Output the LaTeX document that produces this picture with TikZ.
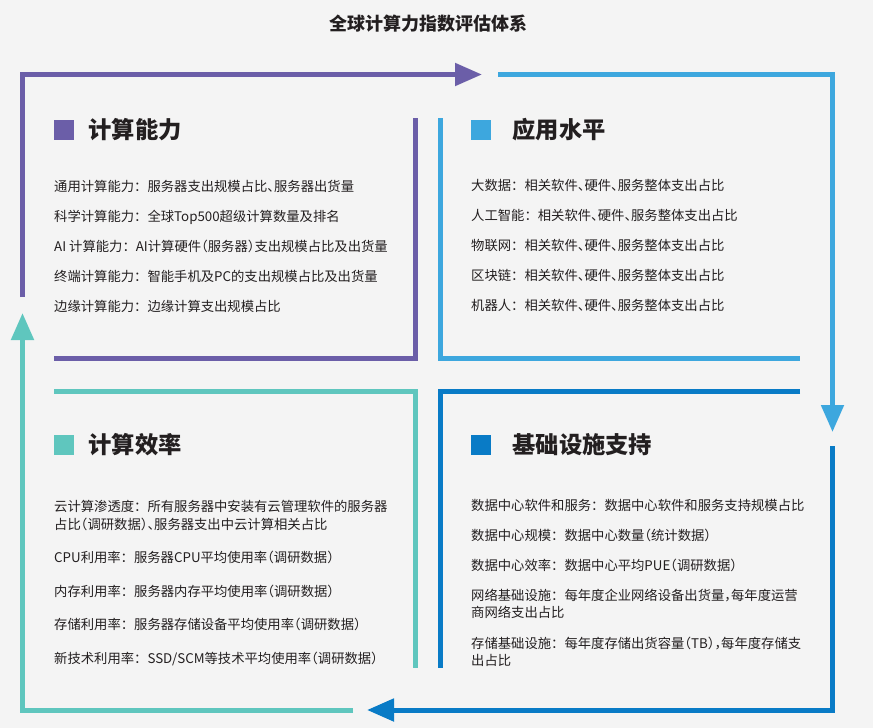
\documentclass[tikz,border=0pt]{standalone}
\usepackage{fontspec}
\setmainfont{Noto Sans CJK SC}
\usetikzlibrary{positioning, arrows.meta}
\definecolor{bgc}{RGB}{244,244,244}
\definecolor{cpurple}{RGB}{107,94,168}
\definecolor{cskyblue}{RGB}{61,167,222}
\definecolor{cteal}{RGB}{95,198,190}
\definecolor{cblue}{RGB}{9,123,198}
\definecolor{txt}{RGB}{35,31,32}
% half-width punctuation
\newcommand\halfp[1]{{\addfontfeatures{RawFeature=+halt}#1}}
\newcommand\survey{\halfp{（}调研数据\halfp{）}}

\begin{document}
\begin{tikzpicture}[x=1pt, y=-1pt,
    frame/.style={line width=5pt},
    tip/.style={-{Triangle[width=22pt,length=27pt]}},
    sq/.style={rectangle, minimum size=20pt, inner sep=0pt},
    hd/.style={anchor=west, inner sep=0pt, font=\bfseries\fontsize{23.3}{28}\selectfont, text=txt},
    item/.style={anchor=base west, inner sep=0pt, align=left, font=\fontsize{13.33}{17.5}\selectfont, text=txt}
  ]
    % Background and page size
    \fill[bgc] (0,0) rectangle (873,728);
    \useasboundingbox (0,0) rectangle (873,728);

    % Title
    \node[font=\bfseries\fontsize{18}{22}\selectfont, text=txt] (title) at (428.5,23.3) {全球计算力指数评估体系};

    % Outer cycle
    \coordinate (o1) at (22.5,297);
    \coordinate (o2) at (482,74.5);
    \coordinate (o3) at (498,74.5);
    \coordinate (o4) at (832.5,432);
    \coordinate (o5) at (832.5,446);
    \coordinate (o6) at (367,710);
    \coordinate (o7) at (353,710);
    \coordinate (o8) at (22.5,313);
    \draw[frame, cpurple, tip] (o1) |- (o2);
    \draw[frame, cskyblue, tip] (o3) -| (o4);
    \draw[frame, cblue, tip] (o5) |- (o6);
    \draw[frame, cteal, tip] (o7) -| (o8);

    % Inner corners
    \coordinate (a1) at (415,118);
    \coordinate (a2) at (54,358.5);
    \coordinate (b1) at (440.5,118);
    \coordinate (b2) at (800,358.5);
    \coordinate (c1) at (54,391.5);
    \coordinate (c2) at (415,668);
    \coordinate (d1) at (800,391.5);
    \coordinate (d2) at (440.5,668);
    \draw[frame, cpurple] (a1) |- (a2);
    \draw[frame, cskyblue] (b1) |- (b2);
    \draw[frame, cteal] (c1) -| (c2);
    \draw[frame, cblue] (d1) -| (d2);

    % Top left
    \node[sq, fill=cpurple] (sqA) at (64,130) {};
    \node[hd, right=14pt of sqA] (hdA) {计算能力};
    \node[item] (A1) at (54,191) {通用计算能力：服务器支出规模占比\halfp{、}服务器出货量};
    \node[item] (A2) at (54,221) {科学计算能力：全球Top500超级计算数量及排名};
    \node[item] (A3) at (54,251) {AI 计算能力：AI计算硬件\halfp{（}服务器\halfp{）}支出规模占比及出货量};
    \node[item] (A4) at (54,281) {终端计算能力：智能手机及PC的支出规模占比及出货量};
    \node[item] (A5) at (54,311) {边缘计算能力：边缘计算支出规模占比};

    % Top right
    \node[sq, fill=cskyblue] (sqB) at (481,130) {};
    \node[hd, right=21pt of sqB] (hdB) {应用水平};
    \node[item] (B1) at (471,190.5) {大数据：相关软件\halfp{、}硬件\halfp{、}服务整体支出占比};
    \node[item] (B2) at (471,220.5) {人工智能：相关软件\halfp{、}硬件\halfp{、}服务整体支出占比};
    \node[item] (B3) at (471,250.5) {物联网：相关软件\halfp{、}硬件\halfp{、}服务整体支出占比};
    \node[item] (B4) at (471,280.5) {区块链：相关软件\halfp{、}硬件\halfp{、}服务整体支出占比};
    \node[item] (B5) at (471,310.5) {机器人：相关软件\halfp{、}硬件\halfp{、}服务整体支出占比};

    % Bottom left (multi-line nodes sit on their last line)
    \node[sq, fill=cteal] (sqC) at (64,445) {};
    \node[hd, right=14pt of sqC] (hdC) {计算效率};
    \node[item] (C1) at (54,529) {云计算渗透度：所有服务器中安装有云管理软件的服务器\\占比\survey\halfp{、}服务器支出中云计算相关占比};
    \node[item] (C2) at (54,562) {CPU利用率：服务器CPU平均使用率\survey};
    \node[item] (C3) at (54,596) {内存利用率：服务器内存平均使用率\survey};
    \node[item] (C4) at (54,629.5) {存储利用率：服务器存储设备平均使用率\survey};
    \node[item] (C5) at (54,663.5) {新技术利用率：SSD/SCM等技术平均使用率\survey};

    % Bottom right
    \node[sq, fill=cblue] (sqD) at (481,445) {};
    \node[hd, right=21pt of sqD] (hdD) {基础设施支持};
    \node[item] (D1) at (471,510) {数据中心软件和服务：数据中心软件和服务支持规模占比};
    \node[item] (D2) at (471,540) {数据中心规模：数据中心数量\halfp{（}统计数据\halfp{）}};
    \node[item] (D3) at (471,570) {数据中心效率：数据中心平均PUE\survey};
    \node[item] (D4) at (471,617.5) {网络基础设施：每年度企业网络设备出货量\halfp{，}每年度运营\\商网络支出占比};
    \node[item] (D5) at (471,665.5) {存储基础设施：每年度存储出货容量\halfp{（}TB\halfp{）}\halfp{，}每年度存储支\\出占比};
\end{tikzpicture}
\end{document}
